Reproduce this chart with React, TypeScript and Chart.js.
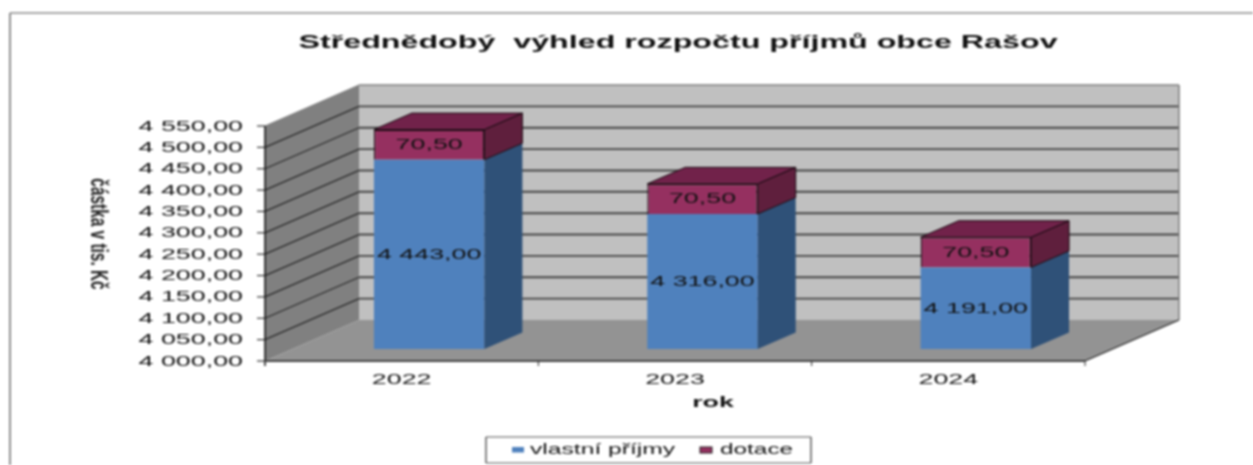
import React, { useEffect, useRef } from "react";
import { Chart, registerables } from "chart.js";

Chart.register(...registerables);

const categories = ["2022", "2023", "2024"];
const vlastniPrijmy = [4443, 4316, 4191];
const dotace = [70.5, 70.5, 70.5];
const yMin = 4000;
const yMax = 4550;
const yStep = 50;
const titleText = "Střednědobý  výhled rozpočtu příjmů obce Rašov";
const xTitle = "rok";
const yTitle = "částka v tis. Kč";
const seriesNames = ["vlastní příjmy", "dotace"];

const FONT = '"Liberation Sans", Arial, sans-serif';
const STRETCH = 1.85;

const fmt = (v: number) => {
  const [i, d] = v.toFixed(2).split(".");
  return `${i.replace(/\B(?=(\d{3})+$)/g, " ")},${d}`;
};

const wide = (
  ctx: CanvasRenderingContext2D,
  text: string,
  x: number,
  y: number,
  font: string,
  align: CanvasTextAlign = "center",
  sx = STRETCH,
  color = "#111"
) => {
  ctx.save();
  ctx.translate(x, y);
  ctx.scale(sx, 1);
  ctx.font = font;
  ctx.fillStyle = color;
  ctx.textAlign = align;
  ctx.textBaseline = "middle";
  ctx.fillText(text, 0, 0);
  ctx.restore();
};

const poly = (
  ctx: CanvasRenderingContext2D,
  pts: number[][],
  fill: string,
  stroke?: string
) => {
  ctx.beginPath();
  pts.forEach(([x, y], i) => (i ? ctx.lineTo(x, y) : ctx.moveTo(x, y)));
  ctx.closePath();
  ctx.fillStyle = fill;
  ctx.fill();
  if (stroke) {
    ctx.strokeStyle = stroke;
    ctx.lineWidth = 1;
    ctx.stroke();
  }
};

const line = (
  ctx: CanvasRenderingContext2D,
  x1: number,
  y1: number,
  x2: number,
  y2: number,
  color: string,
  w = 1
) => {
  ctx.beginPath();
  ctx.moveTo(x1, y1);
  ctx.lineTo(x2, y2);
  ctx.strokeStyle = color;
  ctx.lineWidth = w;
  ctx.stroke();
};

// depth of the room, offset of the bars' front within it, and depth of a bar
const ROOM = { dx: 94, dy: -41 };
const SHIFT = { dx: 27.5, dy: -12 };
const DEPTH = { dx: 38, dy: -16.5 };

const sideColors = ["#2F5178", "#5F1F3D"];
const topColors = ["#3A6496", "#71224A"];

const scene = {
  id: "scene",
  beforeDatasetsDraw(chart: any) {
    const { ctx, chartArea: a, scales } = chart;
    const { x, y } = scales;
    const { dx, dy } = ROOM;
    ctx.save();
    // frame of the page
    line(ctx, 10, 13, 1253, 13, "#8a8a8a", 1.5);
    line(ctx, 10, 13, 10, 465, "#6a6a6a", 1.5);

    // walls and floor
    ctx.fillStyle = "#C0C0C0";
    ctx.fillRect(a.left + dx, a.top + dy, a.width, a.height);
    poly(
      ctx,
      [
        [a.left, a.top],
        [a.left + dx, a.top + dy],
        [a.left + dx, a.bottom + dy],
        [a.left, a.bottom],
      ],
      "#808080"
    );
    poly(
      ctx,
      [
        [a.left, a.bottom],
        [a.right, a.bottom],
        [a.right + dx, a.bottom + dy],
        [a.left + dx, a.bottom + dy],
      ],
      "#939393"
    );

    // gridlines along the side wall and the back wall
    y.ticks.forEach((t: any) => {
      const py = y.getPixelForValue(t.value);
      if (t.value > yMin) {
        const top = t.value === yMax;
        line(ctx, a.left, py, a.left + dx, py + dy, top ? "#808080" : "#2a2a2a", top ? 1 : 1.3);
        line(ctx, a.left + dx, py + dy, a.right + dx, py + dy, top ? "#808080" : "#444", top ? 1.6 : 1.9);
      }
      line(ctx, a.left - 8, py, a.left, py, "#333", 1.2);
      wide(ctx, fmt(t.value), a.left - 22, py + 0.5, `14.5px ${FONT}`, "right");
    });
    line(ctx, a.right + dx, a.top + dy, a.right + dx, a.bottom + dy, "#808080", 1.6);

    // axes
    line(ctx, a.left, a.top, a.left, a.bottom + 5, "#111", 1.5);
    line(ctx, a.left, a.bottom, a.right, a.bottom, "#444", 1.8);
    line(ctx, a.right, a.bottom, a.right + dx, a.bottom + dy, "#222", 1.2);
    const step = x.getPixelForValue(1) - x.getPixelForValue(0);
    categories.forEach((c, i) => {
      const px = x.getPixelForValue(i);
      wide(ctx, c, px, a.bottom + 19, `14.5px ${FONT}`);
      line(ctx, px + step / 2, a.bottom, px + step / 2, a.bottom + 5, "#222");
    });

    // titles
    wide(ctx, titleText, 678, 43, `bold 18px ${FONT}`, "center", 1.79);
    wide(ctx, xTitle, x.getPixelForValue(1) + 38, a.bottom + 42, `bold 14.5px ${FONT}`);
    ctx.save();
    ctx.translate(97, 234);
    ctx.rotate(Math.PI / 2);
    wide(ctx, yTitle, 0, 0, `bold 23px ${FONT}`, "center", 0.67, "#222");
    ctx.restore();

    // legend
    const l = { x: 486, y: 437, r: 811, b: 463 };
    ctx.fillStyle = "#fff";
    ctx.fillRect(l.x, l.y, l.r - l.x, l.b - l.y);
    line(ctx, l.x, l.y, l.r, l.y, "#8c8c8c", 1.5);
    line(ctx, l.x, l.b, l.r, l.b, "#8c8c8c", 1.5);
    line(ctx, l.x, l.y, l.x, l.b, "#333", 1.2);
    line(ctx, l.r, l.y, l.r, l.b, "#333", 1.2);
    ctx.fillStyle = "#4F81BD";
    ctx.fillRect(512, 447, 12, 5.5);
    ctx.fillStyle = "#953060";
    ctx.fillRect(700, 447, 12, 6);
    ctx.strokeStyle = "#222";
    ctx.lineWidth = 1;
    ctx.strokeRect(700, 447, 12, 6);
    wide(ctx, seriesNames[0], 530, 450, `14.5px ${FONT}`, "left", 1.7);
    wide(ctx, seriesNames[1], 720, 450, `14.5px ${FONT}`, "left", 1.68);
    ctx.restore();

    // native bars are drawn a little way into the room
    ctx.save();
    ctx.translate(SHIFT.dx, SHIFT.dy);
  },
  afterDatasetsDraw(chart: any) {
    const { ctx } = chart;
    ctx.restore();
    ctx.save();
    const { dx, dy } = DEPTH;
    chart.data.datasets.forEach((ds: any, di: number) => {
      const meta = chart.getDatasetMeta(di);
      meta.data.forEach((bar: any, i: number) => {
        const r = bar.x + bar.width / 2 + SHIFT.dx;
        const l = bar.x - bar.width / 2 + SHIFT.dx;
        const t = bar.y + SHIFT.dy;
        const b = bar.base + SHIFT.dy;
        const outline = di === 1 ? "#1a0a12" : undefined;
        poly(
          ctx,
          [
            [r, t],
            [r + dx, t + dy],
            [r + dx, b + dy],
            [r, b],
          ],
          sideColors[di],
          outline
        );
        if (di === 1) {
          poly(
            ctx,
            [
              [l, t],
              [l + dx, t + dy],
              [r + dx, t + dy],
              [r, t],
            ],
            topColors[di],
            outline
          );
        }
        wide(ctx, fmt(ds.data[i]), bar.x + SHIFT.dx, (t + b) / 2 + 0.5, `14.5px ${FONT}`);
      });
    });
    ctx.restore();
  },
};

export default function App() {
  const ref = useRef<HTMLCanvasElement>(null);
  useEffect(() => {
    const chart = new Chart(ref.current!, {
      type: "bar",
      data: {
        labels: categories,
        datasets: [
          {
            label: seriesNames[0],
            data: vlastniPrijmy,
            base: yMin,
            backgroundColor: "#4F81BD",
            borderWidth: 0,
          },
          {
            label: seriesNames[1],
            data: dotace,
            backgroundColor: "#953060",
            borderColor: "#1a0a12",
            borderWidth: 1.3,
          },
        ],
      } as any,
      options: {
        animation: false,
        responsive: false,
        layout: { padding: { left: 265, top: 126, right: 168, bottom: 104 } },
        datasets: { bar: { categoryPercentage: 0.404, barPercentage: 1 } },
        plugins: { legend: { display: false }, title: { display: false }, tooltip: { enabled: false } },
        scales: {
          x: {
            stacked: true,
            offset: true,
            grid: { display: false, drawTicks: false },
            border: { display: false },
            ticks: { display: false },
          },
          y: {
            stacked: true,
            min: yMin,
            max: yMax,
            grid: { display: false, drawTicks: false },
            border: { display: false },
            ticks: { display: false, stepSize: yStep },
          },
        },
      } as any,
      plugins: [scene],
    });
    return () => chart.destroy();
  }, []);
  return (
    <div style={{ position: "absolute", left: 0, top: 0, width: 1253, height: 465, overflow: "hidden", background: "#fff" }}>
      <canvas ref={ref} width={1253} height={465} style={{ display: "block", filter: "blur(0.8px)" }} />
    </div>
  );
}
